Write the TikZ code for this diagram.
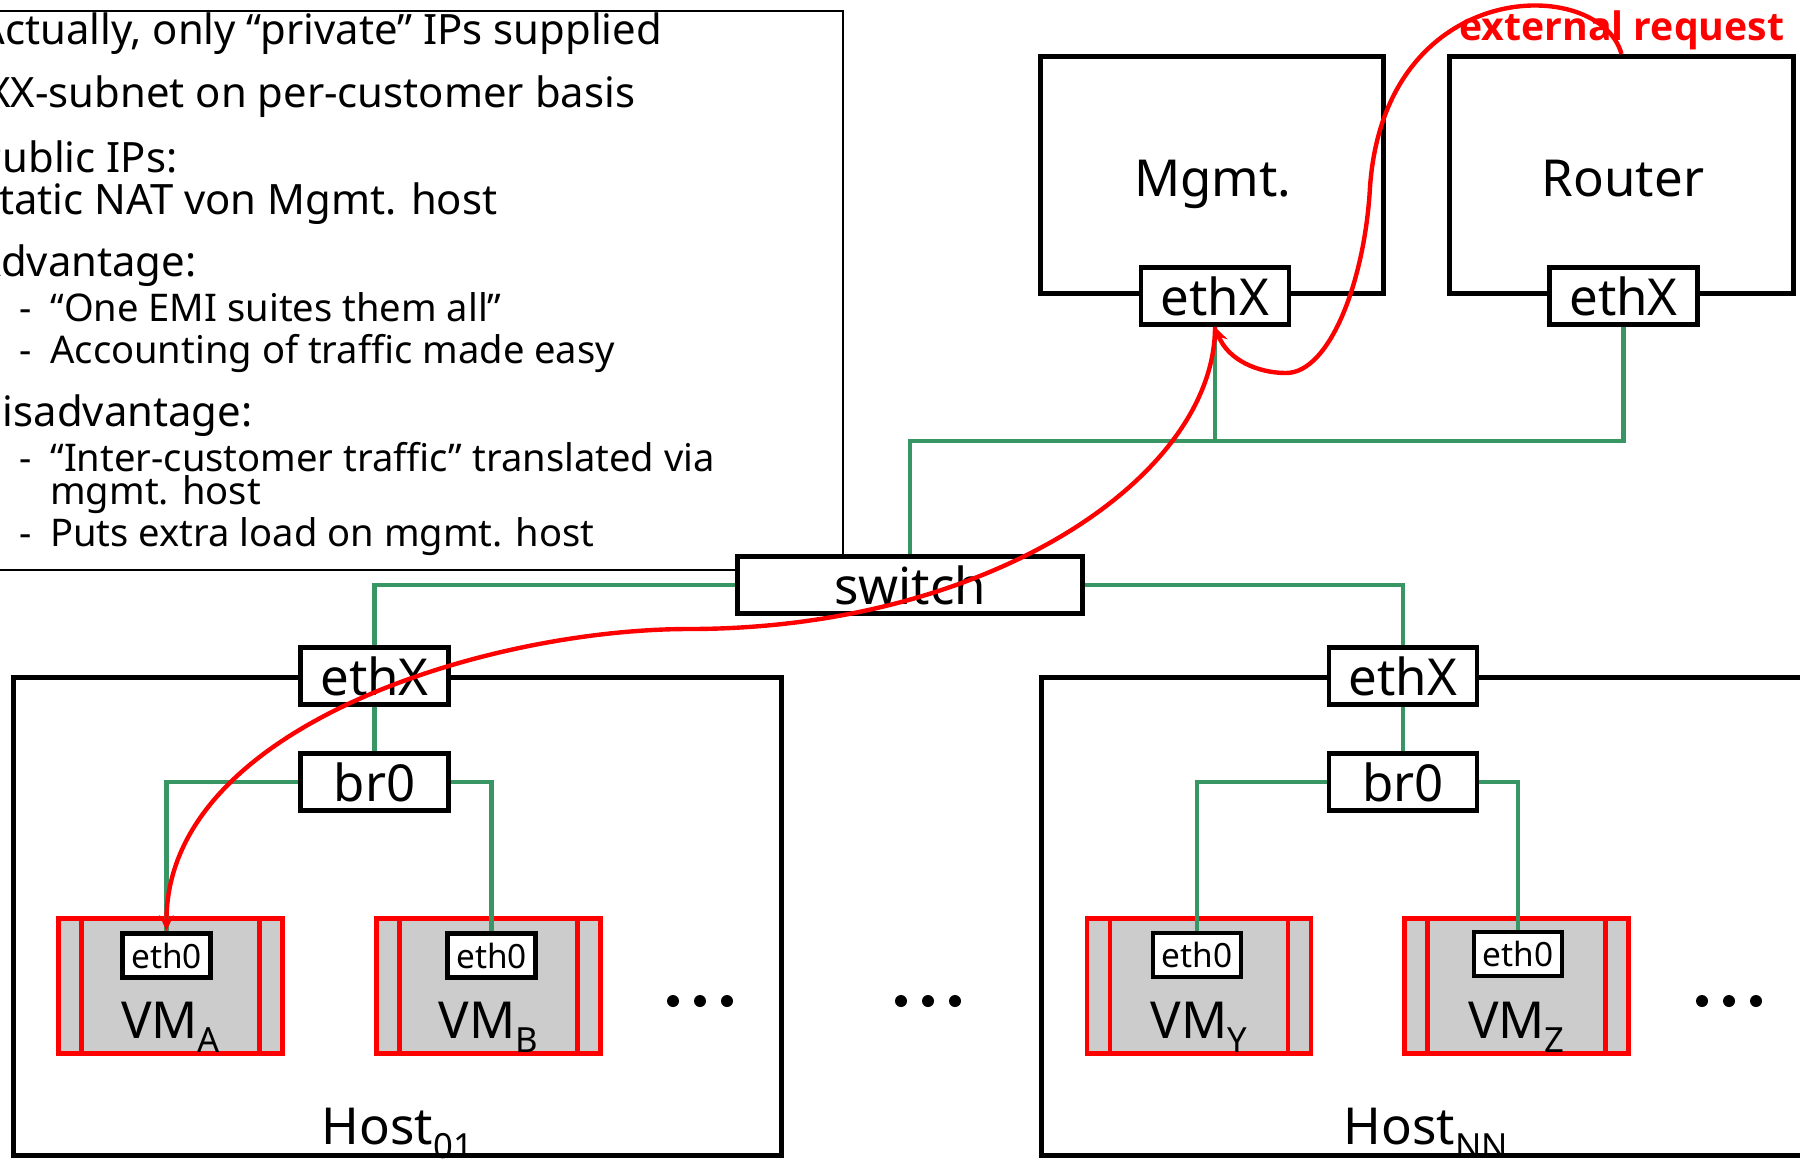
\documentclass[tikz,border=0pt]{standalone}
\usepackage{fontspec}
\setmainfont{Noto Sans}
\newfontfamily\reqfont{Open Sans}
\usepackage{graphicx}
\usetikzlibrary{arrows.meta}
\definecolor{netgreen}{RGB}{55,150,100}
\definecolor{flowred}{RGB}{255,0,0}
\definecolor{vmgray}{RGB}{204,204,204}
\newcommand\bigsz{\fontsize{29}{34}\selectfont}
\newcommand\topsz{\fontsize{23.8}{28}\selectfont}
\newcommand\listsz{\fontsize{21.7}{26}\selectfont}
\newcommand\smallsz{\fontsize{19}{22}\selectfont}
\newcommand\lowidx[1]{\raisebox{-0.28em}{\scalebox{0.68}{#1}}}
\pgfdeclarelayer{back}\pgfdeclarelayer{mid}\pgfdeclarelayer{front}
\pgfsetlayers{back,mid,main,front}
\tikzset{
  wh/.style 2 args={minimum width={#1*0.02cm}, minimum height={#2*0.02cm}},
  frame/.style={draw, line width=2.8pt, fill=white, inner sep=0pt},
  iface/.style={frame, font=\bigsz, wh={148}{57}},
  vnic/.style={frame, font=\smallsz, wh={88}{44}},
  vmbox/.style={draw=flowred, fill=vmgray, line width=2.8pt, inner sep=0pt, wh={224}{135}},
  vmline/.style={draw=flowred, line width=2.6pt},
  net/.style={draw=netgreen, line width=2.3pt},
  flow/.style={draw=flowred, line width=2.5pt, -{Stealth[length=9pt,width=8pt]}},
  toptxt/.style={anchor=base west, inner sep=0pt, font=\topsz},
  listtxt/.style={anchor=base west, inner sep=0pt, font=\listsz},
  biglabel/.style={anchor=base, inner sep=0pt, font=\bigsz},
}
\begin{document}
\begin{tikzpicture}[x=0.02cm, y=0.02cm]
\useasboundingbox (0,0) rectangle (1800,-1161);

\begin{pgfonlayer}{back}
  % notes frame and its text
  \node[draw, line width=1.1pt, inner sep=0pt, wh={883}{559}] (notes) at (401.5,-290.5) {};
  \node[toptxt] (t1) at (-22,-44.5) {Actually, only “private” IPs supplied};
  \node[toptxt] (t2) at (-14,-107.5) {XX-subnet on per-customer basis};
  \node[toptxt] (t3) at (-23,-172) {Public IPs:};
  \node[toptxt] (t4) at (-24,-214) {Static NAT von Mgmt. host};
  \node[toptxt] (t5) at (-26,-276.5) {Advantage:};
  \node[listtxt] (d6) at (19,-321) {-};
  \node[listtxt] (t6) at (50,-321) {“One EMI suites them all”};
  \node[listtxt] (d7) at (19,-363) {-};
  \node[listtxt] (t7) at (50,-363) {Accounting of traffic made easy};
  \node[toptxt] (t8) at (-28,-426.5) {Disadvantage:};
  \node[listtxt] (d9) at (19,-471) {-};
  \node[listtxt] (t9) at (50,-471) {“Inter-customer traffic” translated via};
  \node[listtxt] (t10) at (50,-504) {mgmt. host};
  \node[listtxt] (d11) at (19,-546) {-};
  \node[listtxt] (t11) at (50,-546) {Puts extra load on mgmt. host};

  % machines
  \node[frame, wh={343}{237}] (mgmt) at (1212,-175) {};
  \node[frame, wh={344}{237}] (router) at (1621.5,-175) {};
  \node[biglabel] (mgmtlbl) at (1213,-196) {Mgmt.};
  \node[biglabel] (routerlbl) at (1623,-196) {Router};

  \node[frame, wh={768}{478}] (host1) at (397.5,-916.5) {};
  \node[frame, wh={769}{478}] (hostN) at (1426,-916.5) {};
  \node[biglabel] (host1lbl) at (397.5,-1144.5) {Host\lowidx{01}};
  \node[biglabel] (hostNlbl) at (1426,-1144.5) {Host\lowidx{NN}};

  % virtual machines
  \node[vmbox] (vmA) at (170.5,-986) {};
  \node[vmbox] (vmB) at (488.5,-986) {};
  \node[vmbox] (vmY) at (1199,-986) {};
  \node[vmbox] (vmZ) at (1516.5,-986) {};
  \foreach \v in {vmA,vmB,vmY,vmZ}{
    \draw[vmline] ([xshift=0.51cm]\v.north west) -- ([xshift=0.51cm]\v.south west);
    \draw[vmline] ([xshift=-0.51cm]\v.north east) -- ([xshift=-0.51cm]\v.south east);
  }
  \node[biglabel] (vmAlbl) at (170.5,-1038) {VM\lowidx{A}};
  \node[biglabel] (vmBlbl) at (488.5,-1038) {VM\lowidx{B}};
  \node[biglabel] (vmYlbl) at (1199,-1038) {VM\lowidx{Y}};
  \node[biglabel] (vmZlbl) at (1516.5,-1038) {VM\lowidx{Z}};

  % ellipses
  \foreach \cx in {700,928,1729}{
    \foreach \dx in {-27,0,27}{
      \fill (\cx+\dx,-1001) circle [radius=6];
    }
  }
\end{pgfonlayer}

% interfaces, bridges and the switch
\node[iface] (mgmtEth) at (1215,-296) {ethX};
\node[iface] (routerEth) at (1623.5,-296) {ethX};
\node[frame, font=\bigsz, wh={345}{57}] (switch) at (910,-585) {switch};
\node[iface] (h1eth) at (374.5,-676) {ethX};
\node[iface] (h1br) at (374.5,-782) {br0};
\node[iface] (hNeth) at (1403,-676) {ethX};
\node[iface] (hNbr) at (1403,-782) {br0};
\node[vnic] (vmAeth) at (166.5,-955.5) {eth0};
\node[vnic] (vmBeth) at (491.5,-955.5) {eth0};
\node[vnic] (vmYeth) at (1197,-955) {eth0};
\node[vnic] (vmZeth) at (1518,-954) {eth0};

% network wiring
\begin{pgfonlayer}{mid}
  \coordinate (bus) at (910,-441);
  \draw[net] (switch.north) -- (bus) -| (routerEth.south);
  \draw[net] (mgmtEth.south) -- (mgmtEth.south |- bus);
  \draw[net] (switch.west) -| (h1eth.north);
  \draw[net] (switch.east) -| (hNeth.north);
  \draw[net] (h1eth.south) -- (h1br.north);
  \draw[net] (hNeth.south) -- (hNbr.north);
  \draw[net] (h1br.west) -| (vmAeth.north);
  \draw[net] (h1br.east) -| (vmBeth.north);
  \draw[net] (hNbr.west) -| (vmYeth.north);
  \draw[net] (hNbr.east) -| (vmZeth.north);
\end{pgfonlayer}

% request path
\begin{pgfonlayer}{front}
  \node[anchor=base west, inner sep=0pt, text=flowred, font=\reqfont\bfseries\fontsize{22.3}{26}\selectfont] (extlbl) at (1459,-40) {external request};
  \draw[flow] (router.north) .. controls (1600,25) and (1385,25) .. (1370,-187)
    .. controls (1365,-280) and (1330,-373) .. (1286,-373)
    .. controls (1258,-373) and (1228,-360) .. (mgmtEth.south);
  \draw[flow] (mgmtEth.south) .. controls (1215,-477) and (989,-629) .. (689,-629)
    .. controls (489,-629) and (166,-726) .. (vmAeth.north);
\end{pgfonlayer}
\end{tikzpicture}
\end{document}
